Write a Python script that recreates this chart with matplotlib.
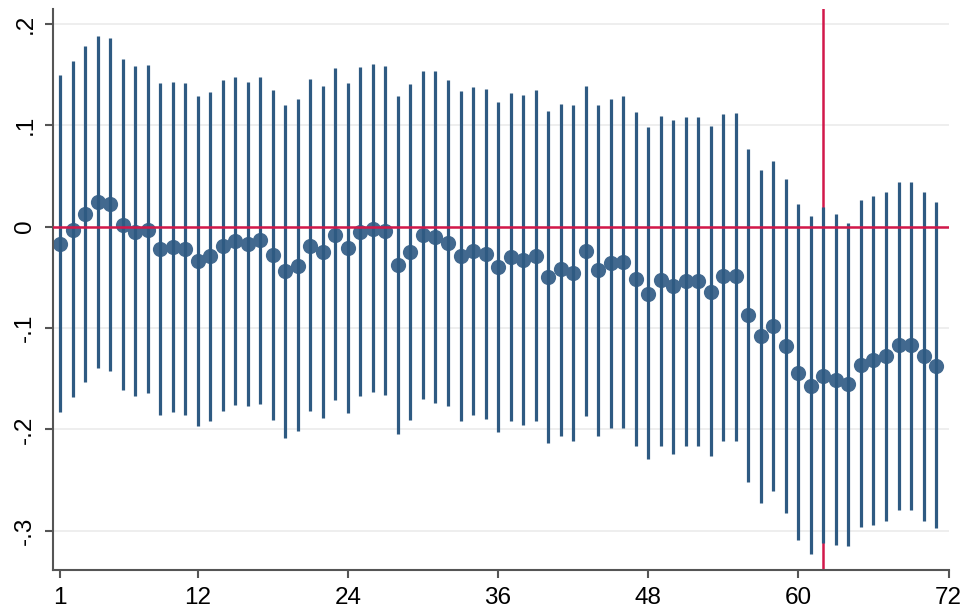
import matplotlib
matplotlib.use('Agg')
from matplotlib import pyplot as plt
import numpy as np

plt.rcParams['font.family'] = ['Liberation Sans', 'DejaVu Sans']

# periodos
x = list(range(1, 72))

# coeficientes estimados
coef = [-0.017, -0.003, 0.012, 0.024, 0.022, 0.002, -0.005, -0.003, -0.022, -0.020,
        -0.022, -0.034, -0.029, -0.019, -0.014, -0.017, -0.013, -0.028, -0.044, -0.039,
        -0.019, -0.025, -0.008, -0.021, -0.005, -0.002, -0.004, -0.038, -0.025, -0.008,
        -0.010, -0.016, -0.029, -0.024, -0.027, -0.040, -0.030, -0.033, -0.029, -0.050,
        -0.042, -0.046, -0.024, -0.043, -0.036, -0.035, -0.052, -0.066, -0.053, -0.059,
        -0.054, -0.054, -0.064, -0.049, -0.049, -0.087, -0.108, -0.098, -0.118, -0.144,
        -0.157, -0.147, -0.151, -0.155, -0.136, -0.132, -0.128, -0.117, -0.117, -0.128,
        -0.137]

# limite superior del intervalo
ci_hi = [0.149, 0.163, 0.178, 0.188, 0.186, 0.165, 0.158, 0.159, 0.142, 0.143,
         0.142, 0.129, 0.133, 0.145, 0.148, 0.143, 0.148, 0.135, 0.120, 0.126,
         0.146, 0.139, 0.156, 0.142, 0.157, 0.160, 0.158, 0.129, 0.141, 0.153,
         0.153, 0.145, 0.134, 0.138, 0.136, 0.123, 0.132, 0.130, 0.135, 0.114,
         0.121, 0.120, 0.139, 0.120, 0.126, 0.129, 0.113, 0.098, 0.109, 0.105,
         0.108, 0.108, 0.099, 0.111, 0.112, 0.077, 0.056, 0.065, 0.047, 0.022,
         0.010, 0.019, 0.012, 0.004, 0.026, 0.030, 0.034, 0.044, 0.044, 0.034,
         0.024]

# limite inferior del intervalo
ci_lo = [-0.183, -0.168, -0.153, -0.139, -0.142, -0.161, -0.167, -0.164, -0.186, -0.183,
         -0.186, -0.197, -0.192, -0.182, -0.176, -0.177, -0.175, -0.191, -0.208, -0.202,
         -0.182, -0.189, -0.171, -0.184, -0.167, -0.163, -0.166, -0.205, -0.191, -0.170,
         -0.174, -0.177, -0.192, -0.186, -0.190, -0.203, -0.192, -0.196, -0.192, -0.213,
         -0.206, -0.211, -0.187, -0.206, -0.199, -0.199, -0.216, -0.229, -0.216, -0.224,
         -0.216, -0.216, -0.226, -0.211, -0.211, -0.252, -0.273, -0.261, -0.282, -0.309,
         -0.323, -0.312, -0.314, -0.315, -0.296, -0.294, -0.290, -0.279, -0.279, -0.290,
         -0.297]

xticks = [1, 12, 24, 36, 48, 60, 72]
yticks = [-0.3, -0.2, -0.1, 0, 0.1, 0.2]
ytick_labels = ['-.3', '-.2', '-.1', '0', '.1', '.2']
evento = 62

fig = plt.figure(figsize=(9.64, 6.12), dpi=100)
ax = fig.add_axes([0.055, 0.068, 0.929, 0.918])

ax.axvline(evento, color='#d2184a', linewidth=1.8, zorder=1)
ax.scatter(x, coef, s=120, color='#42698f', zorder=2, linewidths=0)
ax.vlines(x, ci_lo, ci_hi, color='#2e5a82', linewidth=2.3, zorder=3)
ax.axhline(0, color='#d2184a', linewidth=1.8, zorder=4)

ax.set_xlim(0.44, 72)
ax.set_ylim(-0.339, 0.215)
ax.set_xticks(xticks)
ax.set_yticks(yticks)
ax.set_yticklabels(ytick_labels, rotation=90, va='center')
ax.tick_params(axis='both', labelsize=17.5, length=6, width=1.5, color='#555555')
ax.tick_params(axis='x', pad=6)
ax.tick_params(axis='y', pad=6)
ax.grid(axis='y', color='#ebebeb', linewidth=1.2, zorder=0)
ax.set_axisbelow(True)

for s in ['top', 'right']:
    ax.spines[s].set_visible(False)
for s in ['left', 'bottom']:
    ax.spines[s].set_color('#555555')
    ax.spines[s].set_linewidth(1.5)

fig.savefig('out.png', dpi=100)
